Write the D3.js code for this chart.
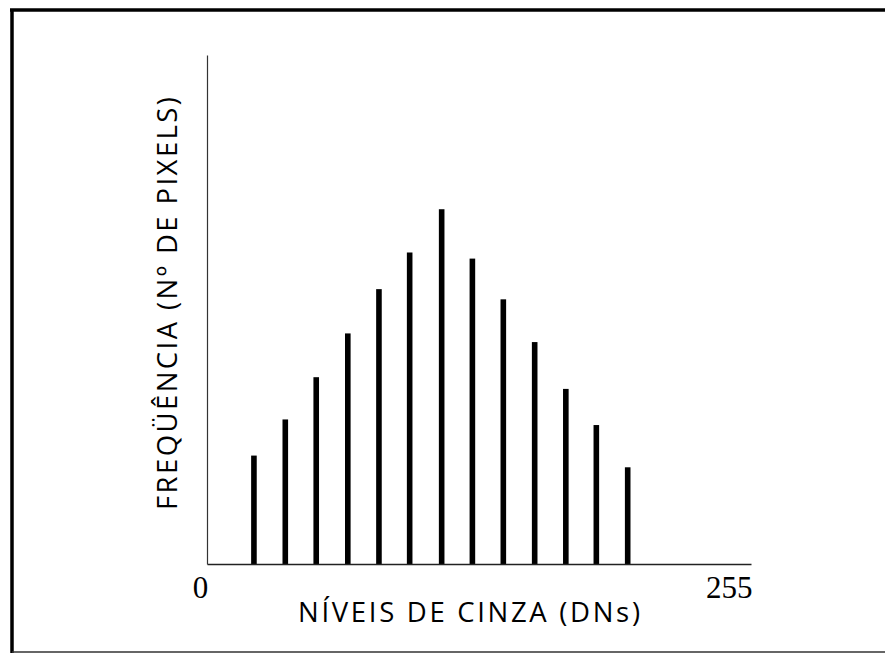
<!DOCTYPE html>
<html>
<head>
<meta charset="utf-8">
<script src="https://cdn.jsdelivr.net/npm/d3@7"></script>
<style>
  html, body { margin: 0; padding: 0; background: #fff; }
  svg { display: block; }
</style>
</head>
<body>
<script>
// Data (gray level DN, relative frequency in % of axis height)
const grayLevels = [22, 36.7, 51.2, 66, 80.6, 95, 110, 124.4, 138.9, 153.6, 168.2, 182.5, 197.2];
const frequencies = [21.3, 28.4, 36.7, 45.3, 54.0, 61.2, 69.7, 60.0, 52.0, 43.6, 34.4, 27.3, 19.0];
const xTickValues = [0, 255];
const xTitle = "NÍVEIS DE CINZA (DNs)";
const yTitle = "FREQÜÊNCIA (Nº DE PIXELS)";

const W = 885, H = 653;
const svg = d3.select("body").append("svg").attr("width", W).attr("height", H);

// frame
svg.append("line").attr("x1", 10).attr("x2", W).attr("y1", 10).attr("y2", 10)
  .attr("stroke", "#000").attr("stroke-width", 3.5);
svg.append("line").attr("x1", 12).attr("x2", 12).attr("y1", 9).attr("y2", H)
  .attr("stroke", "#000").attr("stroke-width", 3.5);
svg.append("line").attr("x1", 12).attr("x2", W).attr("y1", 652).attr("y2", 652)
  .attr("stroke", "#333").attr("stroke-width", 1.5);

const x0 = 207, x1 = 751, yBase = 564, yTop = 55;
const x = d3.scaleLinear().domain([0, 255]).range([x0, x1]);
const y = d3.scaleLinear().domain([0, 100]).range([yBase, yTop]);

// bars
svg.append("g").selectAll("rect").data(grayLevels).join("rect")
  .attr("x", (d) => x(d) - 2.8)
  .attr("width", 5.6)
  .attr("y", (d, i) => y(frequencies[i]))
  .attr("height", (d, i) => yBase - y(frequencies[i]))
  .attr("fill", "#000");

// axes
const xAxis = d3.axisBottom(x).tickValues(xTickValues).tickSize(0).tickFormat(d3.format("d"));
const gx = svg.append("g").attr("transform", `translate(0,${yBase})`).call(xAxis);
gx.select(".domain").attr("stroke", "#222").attr("stroke-width", 1.6);
gx.selectAll(".tick text")
  .attr("font-family", "'Liberation Serif', 'Times New Roman', serif")
  .attr("font-size", 31)
  .attr("fill", "#000")
  .attr("dy", null)
  .attr("y", 34)
  .attr("text-anchor", (d) => d === 0 ? "middle" : "end")
  .attr("x", (d) => d === 0 ? -7 : 1);

const yAxis = d3.axisLeft(y).tickValues([]).tickSize(0);
const gy = svg.append("g").attr("transform", `translate(${x0},0)`).call(yAxis);
gy.select(".domain").attr("stroke", "#333").attr("stroke-width", 1.2);

// titles
svg.append("text").text(xTitle)
  .attr("font-family", "'Open Sans', sans-serif")
  .attr("font-size", 27.5)
  .attr("fill", "#000")
  .attr("text-anchor", "middle")
  .attr("textLength", 342)
  .attr("lengthAdjust", "spacing")
  .attr("x", 469).attr("y", 622);

svg.append("text").text(yTitle)
  .attr("font-family", "'Open Sans', sans-serif")
  .attr("font-size", 27.5)
  .attr("fill", "#000")
  .attr("text-anchor", "middle")
  .attr("textLength", 413)
  .attr("lengthAdjust", "spacing")
  .attr("transform", "translate(177,303.5) rotate(-90)");
</script>
</body>
</html>
